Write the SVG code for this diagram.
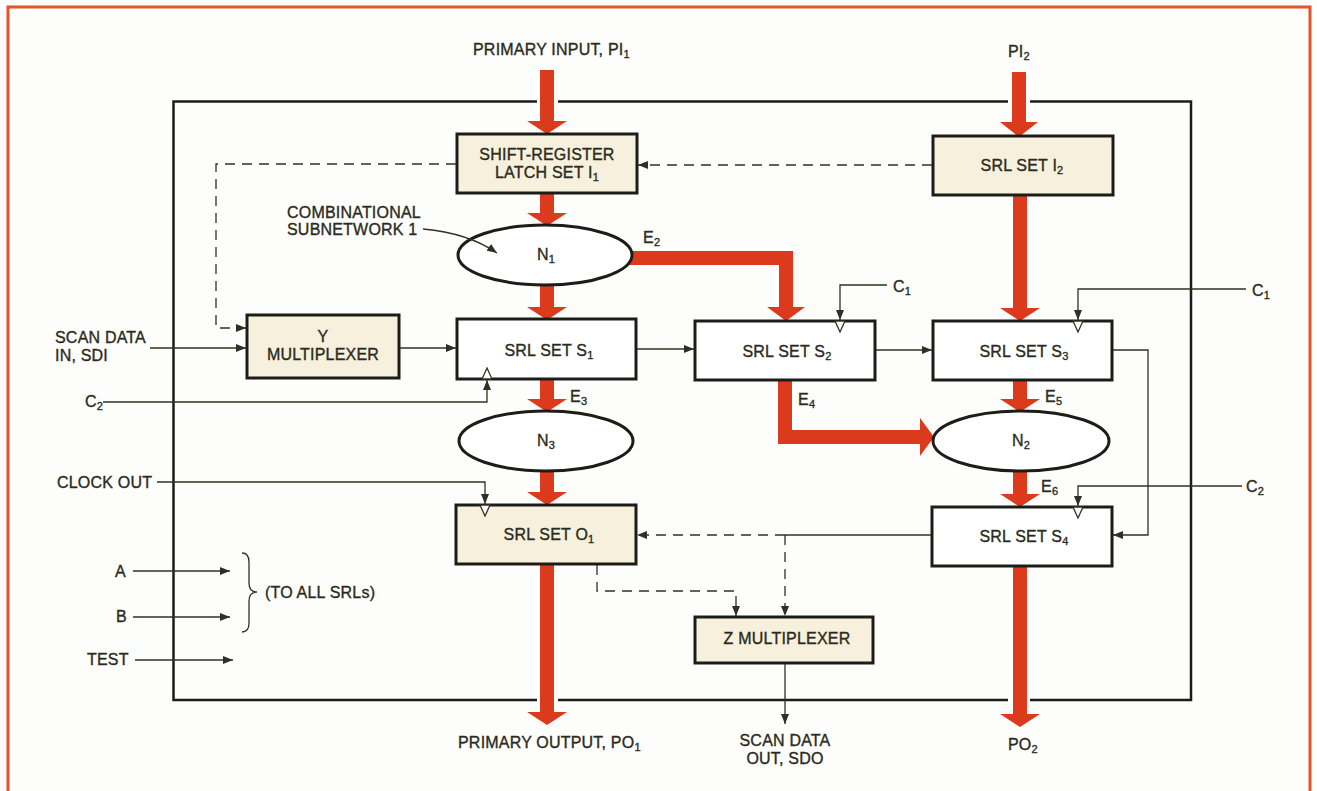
<svg xmlns="http://www.w3.org/2000/svg" width="1317" height="791" viewBox="0 0 1317 791">
<style>
.t{font-family:"Liberation Sans",Arial,sans-serif;font-size:16px;fill:#2a2b20;stroke:#2a2b20;stroke-width:0.35px;letter-spacing:0.2px}
.s{font-size:11px}
.box{fill:#fff;stroke:#1d1d18;stroke-width:3}
.beige{fill:#f6f0dc;stroke:#1d1d18;stroke-width:3}
.ell{fill:#fff;stroke:#1d1d18;stroke-width:3}
.ln{fill:none;stroke:#2f3024;stroke-width:1.3}
.dash{fill:none;stroke:#2f3024;stroke-width:1.3;stroke-dasharray:10 7}
.red{fill:#dc3a1c}
.clk{fill:#fff;stroke:#2f3024;stroke-width:1.3}
</style>
<defs>
<marker id="ah" viewBox="0 0 10 8" refX="10" refY="4" markerWidth="10" markerHeight="8" markerUnits="userSpaceOnUse" orient="auto">
<path d="M0,0 L10,4 L0,8 z" fill="#2f3024"/>
</marker>
</defs>
<rect width="1317" height="791" fill="#fdfdfb"/>
<path d="M8,791 V7 H1310 V791" fill="none" stroke="#e0552a" stroke-width="3"/>
<g id="frame">
<path d="M537,101.5 H173.5 V700 H537 M558,700 H1008 M1030,700 H1191 V101.5 H1030 M1008,101.5 H558" fill="none" stroke="#1d1d18" stroke-width="2.5"/>
</g>

<g id="datapaths">
<polygon class="red" points="540,70 554,70 554,121 567,121 547,134 527,121 540,121"/>
<polygon class="red" points="1012,72 1026,72 1026,122 1038,122 1019,137 1000,122 1012,122"/>
<polygon class="red" points="540,193 554,193 554,213 567,213 547,226 527,213 540,213"/>
<polygon class="red" points="540,284 554,284 554,307 567,307 547,320 527,307 540,307"/>
<polygon class="red" points="540,379 554,379 554,399 567,399 547,412 527,399 540,399"/>
<polygon class="red" points="540,472 554,472 554,492 567,492 547,505 527,492 540,492"/>
<polygon class="red" points="540,564 554,564 554,712 567,712 547,725 527,712 540,712"/>
<polygon class="red" points="625,251 793,251 793,307 805,307 786,321 767,307 779,307 779,265 625,265"/>
<polygon class="red" points="778,380 792,380 792,430 920,430 920,418 934,437 920,456 920,444 778,444"/>
<polygon class="red" points="1013,195 1027,195 1027,308 1040,308 1020,321 1000,308 1013,308"/>
<polygon class="red" points="1013,380 1027,380 1027,399 1040,399 1020,412 1000,399 1013,399"/>
<polygon class="red" points="1013,472 1027,472 1027,494 1040,494 1020,507 1000,494 1013,494"/>
<polygon class="red" points="1013,566 1027,566 1027,714 1040,714 1020,727 1000,714 1013,714"/>
</g>

<g id="I1"><rect class="beige" x="457" y="134" width="180" height="59"/>
<text class="t" x="547" y="160" text-anchor="middle">SHIFT-REGISTER</text>
<text class="t" x="547" y="178" text-anchor="middle">LATCH SET I<tspan class="s" dy="3">1</tspan></text></g>
<g id="I2"><rect class="beige" x="933" y="136" width="180" height="59"/>
<text class="t" x="1022" y="171" text-anchor="middle">SRL SET I<tspan class="s" dy="3">2</tspan></text></g>
<g id="N1"><ellipse class="ell" cx="545" cy="255" rx="87" ry="30"/>
<text class="t" x="546" y="260" text-anchor="middle">N<tspan class="s" dy="3">1</tspan></text></g>
<g id="YMUX"><rect class="beige" x="247" y="315" width="152" height="63"/>
<text class="t" x="323" y="342" text-anchor="middle">Y</text>
<text class="t" x="323" y="360" text-anchor="middle">MULTIPLEXER</text></g>
<g id="S1"><rect class="box" x="457" y="319" width="179" height="60"/>
<polygon class="clk" points="482,379 492,379 487,368"/>
<text class="t" x="549" y="356" text-anchor="middle">SRL SET S<tspan class="s" dy="3">1</tspan></text></g>
<g id="S2"><rect class="box" x="695" y="321" width="180" height="59"/>
<polygon class="clk" points="835,321 845,321 840,332"/>
<text class="t" x="787" y="357" text-anchor="middle">SRL SET S<tspan class="s" dy="3">2</tspan></text></g>
<g id="S3"><rect class="box" x="933" y="321" width="179" height="59"/>
<polygon class="clk" points="1073,321 1083,321 1078,332"/>
<text class="t" x="1024" y="357" text-anchor="middle">SRL SET S<tspan class="s" dy="3">3</tspan></text></g>
<g id="N3"><ellipse class="ell" cx="546" cy="441" rx="87" ry="30"/>
<text class="t" x="546" y="446" text-anchor="middle">N<tspan class="s" dy="3">3</tspan></text></g>
<g id="N2"><ellipse class="ell" cx="1021" cy="441" rx="88" ry="30"/>
<text class="t" x="1021" y="446" text-anchor="middle">N<tspan class="s" dy="3">2</tspan></text></g>
<g id="O1"><rect class="beige" x="456" y="505" width="180" height="59"/>
<polygon class="clk" points="480,505 490,505 485,516"/>
<text class="t" x="549" y="540" text-anchor="middle">SRL SET O<tspan class="s" dy="3">1</tspan></text></g>
<g id="S4"><rect class="box" x="932" y="507" width="180" height="59"/>
<polygon class="clk" points="1073,507 1083,507 1078,518"/>
<text class="t" x="1024" y="542" text-anchor="middle">SRL SET S<tspan class="s" dy="3">4</tspan></text></g>
<g id="ZMUX"><rect class="beige" x="695" y="617" width="178" height="46"/>
<text class="t" x="787" y="644" text-anchor="middle">Z MULTIPLEXER</text></g>

<g id="connectors">
<path class="ln" d="M423,229 Q468,233 497,253" marker-end="url(#ah)"/>
<path class="dash" d="M456,164 H216 V328 H246" marker-end="url(#ah)"/>
<path class="dash" d="M932,165 H638" marker-end="url(#ah)"/>
<path class="ln" d="M150,348 H246" marker-end="url(#ah)"/>
<path class="ln" d="M400,348 H456" marker-end="url(#ah)"/>
<path class="ln" d="M637,349 H694" marker-end="url(#ah)"/>
<path class="ln" d="M876,350 H932" marker-end="url(#ah)"/>
<path class="ln" d="M1113,350 H1148 V535 H1113" marker-end="url(#ah)"/>
<path class="ln" d="M103,402 H487 V380" marker-end="url(#ah)"/>
<path class="ln" d="M157,482 H485 V504" marker-end="url(#ah)"/>
<path class="ln" d="M887,285 H840 V320" marker-end="url(#ah)"/>
<path class="ln" d="M1246,289 H1078 V320" marker-end="url(#ah)"/>
<path class="ln" d="M1242,486 H1078 V506" marker-end="url(#ah)"/>
<path class="ln" d="M931,535 H785"/>
<path class="dash" d="M785,535 H637" marker-end="url(#ah)"/>
<path class="dash" d="M785,535 V616" marker-end="url(#ah)"/>
<path class="dash" d="M597,565 V591 H736 V616" marker-end="url(#ah)"/>
<path class="ln" d="M785,664 V724" marker-end="url(#ah)"/>
<path class="ln" d="M133,571 H230" marker-end="url(#ah)"/>
<path class="ln" d="M133,617 H230" marker-end="url(#ah)"/>
<path class="ln" d="M135,660 H233" marker-end="url(#ah)"/>
<path class="ln" d="M242,553 Q249,553 249,562 L249,583 Q249,592 257,592 Q249,592 249,601 L249,623 Q249,632 242,632"/>
</g>

<g id="labels">
<text class="t" x="473" y="55">PRIMARY INPUT, PI<tspan class="s" dy="3">1</tspan></text>
<text class="t" x="1008" y="57">PI<tspan class="s" dy="3">2</tspan></text>
<text class="t" x="287" y="218">COMBINATIONAL</text>
<text class="t" x="287" y="235">SUBNETWORK 1</text>
<text class="t" x="643" y="243">E<tspan class="s" dy="3">2</tspan></text>
<text class="t" x="55" y="343">SCAN DATA</text>
<text class="t" x="55" y="361">IN, SDI</text>
<text class="t" x="85" y="407">C<tspan class="s" dy="3">2</tspan></text>
<text class="t" x="57" y="488">CLOCK OUT</text>
<text class="t" x="570" y="402">E<tspan class="s" dy="3">3</tspan></text>
<text class="t" x="798" y="405">E<tspan class="s" dy="3">4</tspan></text>
<text class="t" x="893" y="292">C<tspan class="s" dy="3">1</tspan></text>
<text class="t" x="1252" y="296">C<tspan class="s" dy="3">1</tspan></text>
<text class="t" x="1045" y="402">E<tspan class="s" dy="3">5</tspan></text>
<text class="t" x="1041" y="492">E<tspan class="s" dy="3">6</tspan></text>
<text class="t" x="1246" y="492">C<tspan class="s" dy="3">2</tspan></text>
<text class="t" x="115" y="577">A</text>
<text class="t" x="116" y="622">B</text>
<text class="t" x="87" y="665">TEST</text>
<text class="t" x="265" y="598">(TO ALL SRLs)</text>
<text class="t" x="458" y="748">PRIMARY OUTPUT, PO<tspan class="s" dy="3">1</tspan></text>
<text class="t" x="785" y="746" text-anchor="middle">SCAN DATA</text>
<text class="t" x="785" y="764" text-anchor="middle">OUT, SDO</text>
<text class="t" x="1008" y="750">PO<tspan class="s" dy="3">2</tspan></text>
</g>
</svg>
